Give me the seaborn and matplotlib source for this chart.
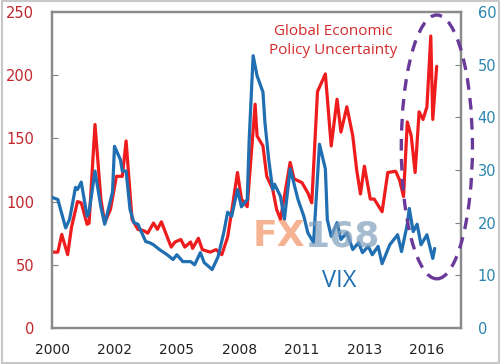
import numpy as np
import pandas as pd
import matplotlib
matplotlib.use("Agg")
import matplotlib.pyplot as plt
import seaborn as sns
from matplotlib.patches import Ellipse, Rectangle

# Global Economic Policy Uncertainty (left axis)
epu_dates = ["2000-01", "2000-04", "2000-06", "2000-09", "2000-11", "2001-02", "2001-04",
             "2001-07", "2001-08", "2001-11", "2002-02", "2002-04", "2002-07", "2002-10",
             "2003-01", "2003-03", "2003-06", "2003-09", "2003-12", "2004-02", "2004-05",
             "2004-07", "2004-09", "2004-12", "2005-02", "2005-04", "2005-07", "2005-09",
             "2005-12", "2006-01", "2006-04", "2006-06", "2006-10", "2007-01", "2007-04",
             "2007-07", "2007-09", "2007-12", "2008-02", "2008-05", "2008-07", "2008-09",
             "2008-10", "2009-01", "2009-03", "2009-06", "2009-08", "2009-10", "2009-12",
             "2010-03", "2010-05", "2010-09", "2010-12", "2011-02", "2011-05", "2011-09",
             "2011-12", "2012-03", "2012-05", "2012-08", "2012-11", "2013-01", "2013-03",
             "2013-05", "2013-08", "2013-10", "2014-02", "2014-05", "2014-09", "2014-11",
             "2015-01", "2015-03", "2015-05", "2015-07", "2015-09", "2015-11", "2016-01",
             "2016-03", "2016-04", "2016-06"]
epu_values = [60, 60, 74, 58, 80, 100, 99,
              82, 83, 161, 102, 83, 94, 120,
              120, 148, 86, 78, 77, 75, 83,
              78, 84, 72, 64, 68, 70, 64,
              68, 63, 71, 62, 60, 62, 58,
              72, 92, 123, 102, 96, 136, 177,
              152, 144, 120, 110, 94, 86, 104,
              131, 118, 115, 107, 99, 187, 201,
              144, 181, 155, 175, 152, 125, 106,
              128, 102, 102, 92, 123, 124, 117,
              104, 163, 152, 123, 171, 165, 175,
              231, 165, 207]

# VIX (right axis)
vix_dates = ["2000-01", "2000-04", "2000-08", "2000-10", "2001-01", "2001-02", "2001-04",
             "2001-07", "2001-08", "2001-11", "2002-02", "2002-04", "2002-08", "2002-09",
             "2002-12", "2003-01", "2003-03", "2003-05", "2003-07", "2003-09", "2004-01",
             "2004-03", "2004-05", "2004-08", "2004-12", "2005-03", "2005-05", "2005-08",
             "2005-12", "2006-02", "2006-05", "2006-07", "2006-11", "2007-02", "2007-05",
             "2007-07", "2007-09", "2007-12", "2008-02", "2008-05", "2008-06", "2008-08",
             "2008-10", "2009-01", "2009-02", "2009-04", "2009-06", "2009-07", "2009-10",
             "2009-12", "2010-03", "2010-04", "2010-07", "2010-10", "2010-12", "2011-03",
             "2011-06", "2011-09", "2011-10", "2011-12", "2012-03", "2012-05", "2012-08",
             "2012-11", "2013-02", "2013-04", "2013-07", "2013-09", "2013-12", "2014-02",
             "2014-06", "2014-10", "2014-12", "2015-03", "2015-04", "2015-06", "2015-08",
             "2015-10", "2016-01", "2016-04", "2016-05"]
vix_values = [24.8, 24.4, 19.0, 20.6, 26.7, 26.3, 27.7,
              21.2, 22.0, 29.8, 23.0, 19.7, 25.8, 34.5,
              32.0, 29.8, 29.8, 22.5, 20.0, 19.7, 16.4,
              16.2, 15.8, 14.9, 13.9, 13.0, 13.9, 12.6,
              12.6, 12.0, 14.3, 12.4, 11.1, 13.5, 18.1,
              22.0, 21.2, 26.3, 23.0, 24.4, 35.9, 51.7,
              47.9, 44.8, 39.0, 32.0, 26.3, 27.3, 25.0,
              20.6, 30.2, 28.8, 24.4, 21.2, 18.1, 16.2,
              34.9, 30.2, 20.6, 17.4, 20.0, 16.8, 18.1,
              14.9, 16.2, 14.3, 15.5, 13.9, 15.5, 12.2,
              15.8, 17.7, 14.5, 19.7, 22.7, 18.3, 19.7,
              15.8, 17.7, 13.2, 15.1]

tick_dates = ["2000-01", "2002-09", "2005-05", "2008-01", "2010-09", "2013-05", "2016-01"]
tick_labels = ["2000", "2002", "2005", "2008", "2011", "2013", "2016"]

epu = pd.DataFrame({"date": pd.to_datetime(epu_dates), "value": epu_values})
vix = pd.DataFrame({"date": pd.to_datetime(vix_dates), "value": vix_values})

sns.set_style("white")
plt.rcParams["font.family"] = ["DejaVu Sans"]

fig = plt.figure(figsize=(5, 3.64), dpi=100)
fig.patches.append(Rectangle((0.003, 0.004), 0.994, 0.992, transform=fig.transFigure,
                             fill=False, edgecolor="#c8c8c8", lw=1.5))
ax = fig.add_axes([0.104, 0.099, 0.818, 0.868])
ax2 = ax.twinx()

sns.lineplot(data=epu, x="date", y="value", ax=ax, color="#ee1c1c", lw=2.3, zorder=2)
sns.lineplot(data=vix, x="date", y="value", ax=ax2, color="#1f6fb2", lw=2.3, zorder=3)

ax.set_ylim(0, 250)
ax2.set_ylim(0, 60)
ax.set_xlim(pd.Timestamp("2000-01-01"), pd.Timestamp("2017-06-15"))
ax.set_yticks([0, 50, 100, 150, 200, 250])
ax2.set_yticks([0, 10, 20, 30, 40, 50, 60])
ax.set_xticks(pd.to_datetime(tick_dates))
ax.set_xticklabels(tick_labels)
ax.set_xlabel("")
ax.set_ylabel("")
ax2.set_ylabel("")

ax.tick_params(axis="y", direction="in", length=4, color="#808080", pad=13,
               labelsize=10.5, labelcolor="#c0282d")
ax.tick_params(axis="x", direction="in", length=4, color="#808080", pad=10.5,
               labelsize=10, labelcolor="#222222")
ax2.tick_params(axis="y", direction="in", length=4, color="#808080", pad=12,
                labelsize=10.5, labelcolor="#2a86b0")
for a in (ax, ax2):
    for s in a.spines.values():
        s.set_color("#8a8a8a")
        s.set_linewidth(1.6)

ax2.text(0.687, 0.908, "Global Economic\nPolicy Uncertainty", transform=ax.transAxes,
         ha="center", va="center", fontsize=11, color="#d42a2a",
         family=["Open Sans", "DejaVu Sans"], linespacing=1.3, zorder=6)
ax2.text(0.702, 0.149, "VIX", transform=ax.transAxes, ha="center", va="center",
         fontsize=17, color="#1f6fb2", family=["Open Sans", "DejaVu Sans"], zorder=6)
# watermark
ax2.text(0.619, 0.291, "FX", transform=ax.transAxes, ha="right", va="center",
         fontsize=26, fontweight="bold", color="#f39a70", alpha=0.75, zorder=5)
ax2.text(0.619, 0.291, "168", transform=ax.transAxes, ha="left", va="center",
         fontsize=26, fontweight="bold", color="#7f9fbc", alpha=0.7, zorder=5)

ax2.add_patch(Ellipse((0.941, 0.573), 0.174, 0.835, transform=ax.transAxes, fill=False,
                      edgecolor="#6a3a9a", lw=2.4, ls=(0, (3.5, 2.5)), clip_on=False, zorder=7))

fig.savefig("out.png", dpi=100)
